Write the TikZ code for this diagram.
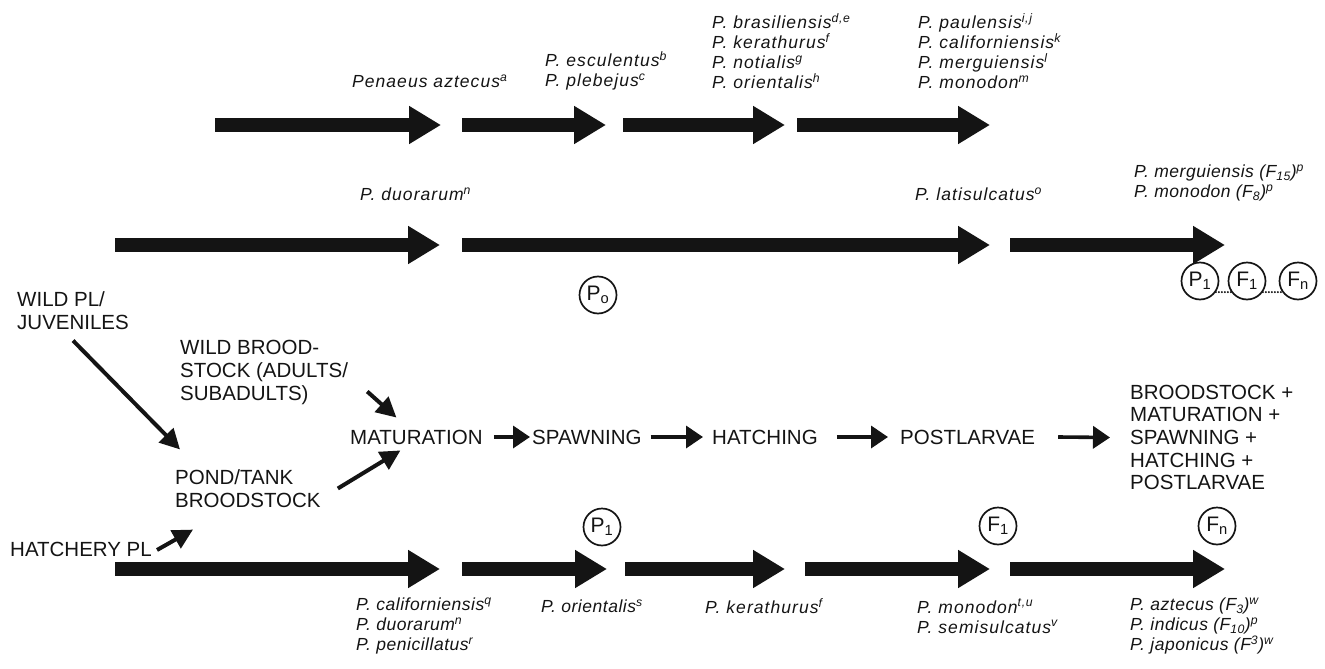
\documentclass[tikz,border=0pt]{standalone}
\usepackage{fontspec}
\setmainfont{Liberation Sans}
\newfontfamily\widefont{Liberation Sans}[LetterSpace=6]
\newfontfamily\midfont{Liberation Sans}[LetterSpace=3]
\usetikzlibrary{arrows.meta}
\definecolor{ink}{HTML}{141414}
\begin{document}
\begin{tikzpicture}[x=1pt,y=-1pt,
  bigarrow/.style={draw=ink, line width=14pt, -{Triangle[length=32pt,width=36pt]}},
  thinarrow/.style={draw=ink, line width=3.6pt, -{Triangle[length=17pt,width=22pt]}},
  diagarrow/.style={draw=ink, line width=4pt, -{Triangle[length=20pt,width=20pt]}},
  caps/.style={font=\fontsize{20.5}{22.7}\selectfont, text=ink, inner sep=0pt, anchor=west, align=left},
  sp/.style={font=\widefont\itshape\fontsize{17.5}{20}\selectfont, text=ink, inner sep=0pt, anchor=west, align=left},
  spm/.style={font=\midfont\itshape\fontsize{17.5}{20}\selectfont, text=ink, inner sep=0pt, anchor=west, align=left},
  gen/.style={circle, draw=ink, line width=1.7pt, minimum size=37pt, inner sep=0pt, font=\fontsize{21}{21}\selectfont, text=ink},
  dotline/.style={draw=ink, line width=2.2pt, line cap=round, dash pattern=on 0pt off 3pt},
]
\useasboundingbox (0,0) rectangle (1325,669);

% ---------- top row ----------
\coordinate (t1s) at (215,125); \coordinate (t1e) at (441,125);
\coordinate (t2s) at (462,125); \coordinate (t2e) at (606,125);
\coordinate (t3s) at (623,125); \coordinate (t3e) at (785,125);
\coordinate (t4s) at (797,125); \coordinate (t4e) at (990,125);
\draw[bigarrow] (t1s) -- (t1e);
\draw[bigarrow] (t2s) -- (t2e);
\draw[bigarrow] (t3s) -- (t3e);
\draw[bigarrow] (t4s) -- (t4e);

\node[sp] (l1) at (352,81) {Penaeus aztecus\textsuperscript{a}};
\node[sp] (l2) at (545,71) {P. esculentus\textsuperscript{b}\\P. plebejus\textsuperscript{c}};
\node[sp] (l3) at (712,51) {P. brasiliensis\textsuperscript{d,e}\\P. kerathurus\textsuperscript{f}\\P. notialis\textsuperscript{g}\\P. orientalis\textsuperscript{h}};
\node[sp] (l4) at (918,51) {P. paulensis\textsuperscript{i,j}\\P. californiensis\textsuperscript{k}\\P. merguiensis\textsuperscript{l}\\P. monodon\textsuperscript{m}};

% ---------- middle row ----------
\coordinate (m1s) at (115,245); \coordinate (m1e) at (440,245);
\coordinate (m2s) at (462,245); \coordinate (m2e) at (990,245);
\coordinate (m3s) at (1010,245); \coordinate (m3e) at (1225,245);
\draw[bigarrow] (m1s) -- (m1e);
\draw[bigarrow] (m2s) -- (m2e);
\draw[bigarrow] (m3s) -- (m3e);

\node[sp] (l5) at (360,194) {P. duorarum\textsuperscript{n}};
\node[sp] (l6) at (915,194) {P. latisulcatus\textsuperscript{o}};
\node[spm] (l7) at (1134,183) {P. merguiensis (F\textsubscript{15})\textsuperscript{p}\\P. monodon (F\textsubscript{8})\textsuperscript{p}};

\node[gen] (po) at (598,295) {P\textsubscript{o}};
\node[gen] (rp1) at (1200,281) {P\textsubscript{1}};
\node[gen] (rf1) at (1247,281) {F\textsubscript{1}};
\node[gen] (rfn) at (1298,281) {F\textsubscript{n}};
\draw[dotline] (rp1.-35) -- (rf1.-145);
\draw[dotline] (rf1.-35) -- (rfn.-145);

% ---------- process chain ----------
\node[caps] (wildpl) at (17,310.5) {WILD PL/\\JUVENILES};
\node[caps] (wildbrood) at (180,372.5) {WILD BROOD-\\STOCK (ADULTS/\\SUBADULTS)};
\node[caps] (mat) at (350,437) {MATURATION};
\node[caps] (spawn) at (532,437) {SPAWNING};
\node[caps] (hatch) at (712,437) {HATCHING};
\node[caps] (post) at (900,437) {POSTLARVAE};
\node[caps] (brood) at (1130,437.5) {BROODSTOCK +\\MATURATION +\\SPAWNING +\\HATCHING +\\POSTLARVAE};
\node[caps] (pond) at (175,488.5) {POND/TANK\\BROODSTOCK};
\node[caps] (hatchery) at (10,549) {HATCHERY PL};

\draw[diagarrow] ([yshift=-11pt]wildpl.south) -- ([xshift=5pt,yshift=20pt]pond.north west);
\draw[diagarrow] ([xshift=19pt,yshift=-19pt]wildbrood.east) -- ([xshift=-20pt,yshift=12pt]mat.north);
\draw[diagarrow] ([xshift=17pt]pond.east) -- ([xshift=-16pt,yshift=-6pt]mat.south);
\draw[diagarrow] ([xshift=5pt,yshift=-1pt]hatchery.east) -- ([xshift=18pt,yshift=-22pt]pond.south west);

\draw[thinarrow] ([xshift=11pt]mat.east) -- ([xshift=-2pt]spawn.west);
\draw[thinarrow] ([xshift=9pt]spawn.east) -- ([xshift=-9pt]hatch.west);
\draw[thinarrow] ([xshift=19pt]hatch.east) -- ([xshift=-12pt]post.west);
\draw[thinarrow] ([xshift=23pt]post.east) -- ([xshift=-20pt]brood.west);

% ---------- bottom row ----------
\coordinate (b1s) at (115,569); \coordinate (b1e) at (440,569);
\coordinate (b2s) at (462,569); \coordinate (b2e) at (607,569);
\coordinate (b3s) at (625,569); \coordinate (b3e) at (785,569);
\coordinate (b4s) at (805,569); \coordinate (b4e) at (990,569);
\coordinate (b5s) at (1010,569); \coordinate (b5e) at (1225,569);
\draw[bigarrow] (b1s) -- (b1e);
\draw[bigarrow] (b2s) -- (b2e);
\draw[bigarrow] (b3s) -- (b3e);
\draw[bigarrow] (b4s) -- (b4e);
\draw[bigarrow] (b5s) -- (b5e);

\node[gen] (bp1) at (602,527) {P\textsubscript{1}};
\node[gen] (bf1) at (998,526) {F\textsubscript{1}};
\node[gen] (bfn) at (1217,526) {F\textsubscript{n}};

\node[spm] (l8) at (356,626) {P. californiensis\textsuperscript{q}\\P. duorarum\textsuperscript{n}\\P. penicillatus\textsuperscript{r}};
\node[spm] (l9) at (541,606) {P. orientalis\textsuperscript{s}};
\node[sp] (l10) at (705,606) {P. kerathurus\textsuperscript{f}};
\node[sp] (l11) at (917,616) {P. monodon\textsuperscript{t,u}\\P. semisulcatus\textsuperscript{v}};
\node[spm] (l12) at (1130,626) {P. aztecus (F\textsubscript{3})\textsuperscript{w}\\P. indicus (F\textsubscript{10})\textsuperscript{p}\\P. japonicus (F\textsuperscript{3})\textsuperscript{w}};
\end{tikzpicture}
\end{document}
